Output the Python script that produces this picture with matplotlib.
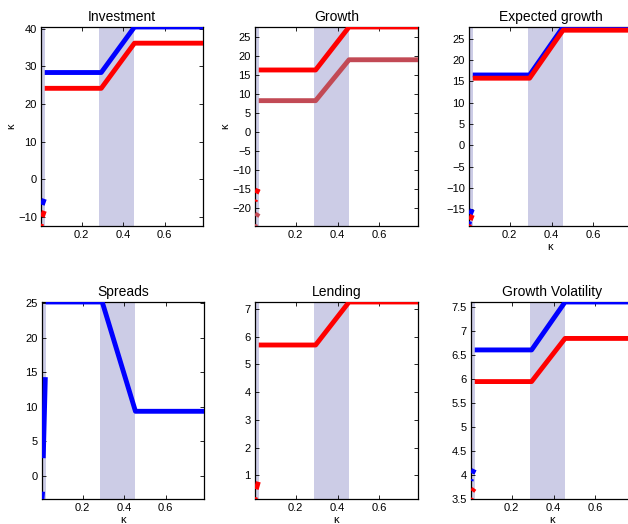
import numpy as np
import matplotlib
matplotlib.use("Agg")
import matplotlib.pyplot as plt

plt.rcParams['font.family'] = ['Liberation Sans', 'DejaVu Sans']

# common x grid pieces (kappa)
x_tiny = [0.005, 0.008]
x_seg = [0.011, 0.021]
x_main = [0.023, 0.295, 0.455, 0.785]
xlim = (0.005, 0.785)
shade_bands = [(0.005, 0.022), (0.285, 0.455)]
xticks = [0.2, 0.4, 0.6]

titles = ["Investment", "Growth", "Expected growth", "Spreads", "Lending", "Growth Volatility"]

# each series: (colour, tiny-seg y, short-seg y, main y)
BLUE = "#0000ff"
RED = "#ff0000"
ROSE = "#c24a55"

inv_blue = ([-9.5, -8.8], [-6.8, -5.2], [28.4, 28.4, 40.5, 40.5])
inv_red = ([-12.4, -11.8], [-10.0, -8.4], [24.2, 24.2, 36.2, 36.2])
gro_red = ([-18.3, -17.8], [-16.2, -15.0], [16.4, 16.4, 27.75, 27.75])
gro_rose = ([-24.8, -24.3], [-22.3, -21.4], [8.3, 8.3, 19.1, 19.1])
exp_blue = ([-18.5, -17.8], [-16.2, -15.0], [16.5, 16.5, 27.75, 27.75])
exp_red = ([-18.9, -18.5], [-17.5, -16.3], [15.75, 15.75, 27.0, 27.0])
spr_blue = ([-3.37, -2.3], [2.55, 14.3], [25.2, 25.2, 9.35, 9.35])
len_red = ([0.15, 0.22], [0.5, 0.77], [5.7, 5.7, 7.25, 7.25])
vol_blue = ([3.88, 3.92], [4.03, 4.12], [6.61, 6.61, 7.61, 7.61])
vol_red = ([3.5, 3.53], [3.66, 3.72], [5.95, 5.95, 6.85, 6.85])

panels = [
    [(BLUE, inv_blue), (RED, inv_red)],
    [(RED, gro_red), (ROSE, gro_rose)],
    [(BLUE, exp_blue), (RED, exp_red)],
    [(BLUE, spr_blue)],
    [(RED, len_red)],
    [(BLUE, vol_blue), (RED, vol_red)],
]
ylims = [(-12.4, 40.5), (-24.8, 27.75), (-18.9, 27.75), (-3.37, 25.2), (0.15, 7.25), (3.5, 7.61)]
yticks = [
    [-10, 0, 10, 20, 30, 40],
    [-20, -15, -10, -5, 0, 5, 10, 15, 20, 25],
    [-15, -10, -5, 0, 5, 10, 15, 20, 25],
    [0, 5, 10, 15, 20, 25],
    [1, 2, 3, 4, 5, 6, 7],
    [3.5, 4, 4.5, 5, 5.5, 6, 6.5, 7, 7.5],
]
ytick_labels = [
    None, None, None, None, None,
    ["3.5", "4", "4.5", "5", "5.5", "6", "6.5", "7", "7.5"],
]
ylabel_on = [True, True, False, False, False, False]
xlabel_on = [False, False, True, True, True, True]

W, H = 628, 524
fig = plt.figure(figsize=(W / 100, H / 100), dpi=100)

# axes boxes in pixels: left, top, right, bottom
boxes = [
    (41, 27, 203, 226),
    (255, 27, 418, 226),
    (469, 27, 632, 226),
    (42, 302, 204, 499),
    (255, 302, 418, 499),
    (471, 302, 634, 499),
]

for i, (l, t, r, b) in enumerate(boxes):
    ax = fig.add_axes([l / W, 1 - b / H, (r - l) / W, (b - t) / H])
    for a, z in shade_bands:
        ax.axvspan(a, z, color="#cccce6", lw=0, zorder=1)
    for col, (tiny, seg, main) in panels[i]:
        ax.plot(x_tiny, tiny, color=col, lw=3.5, solid_capstyle="butt", zorder=3)
        ax.plot(x_seg, seg, color=col, lw=3.5, solid_capstyle="butt", zorder=3)
        ax.plot(x_main, main, color=col, lw=3.5, solid_capstyle="butt", zorder=3)
    ax.set_xlim(*xlim)
    ax.set_ylim(*ylims[i])
    ax.set_xticks(xticks)
    ax.set_xticklabels(["0.2", "0.4", "0.6"])
    ax.set_yticks(yticks[i])
    if ytick_labels[i]:
        ax.set_yticklabels(ytick_labels[i])
    ax.tick_params(direction="in", length=3, width=0.6, top=True, right=True,
                   labelsize=8, pad=3)
    for s in ax.spines.values():
        s.set_linewidth(0.9)
    ax.set_title(titles[i], fontsize=10, pad=4)
    if ylabel_on[i]:
        ax.set_ylabel("κ", fontsize=8, labelpad=1)
    if xlabel_on[i]:
        ax.set_xlabel("κ", fontsize=8, labelpad=1)

fig.savefig("out.png", dpi=100)
